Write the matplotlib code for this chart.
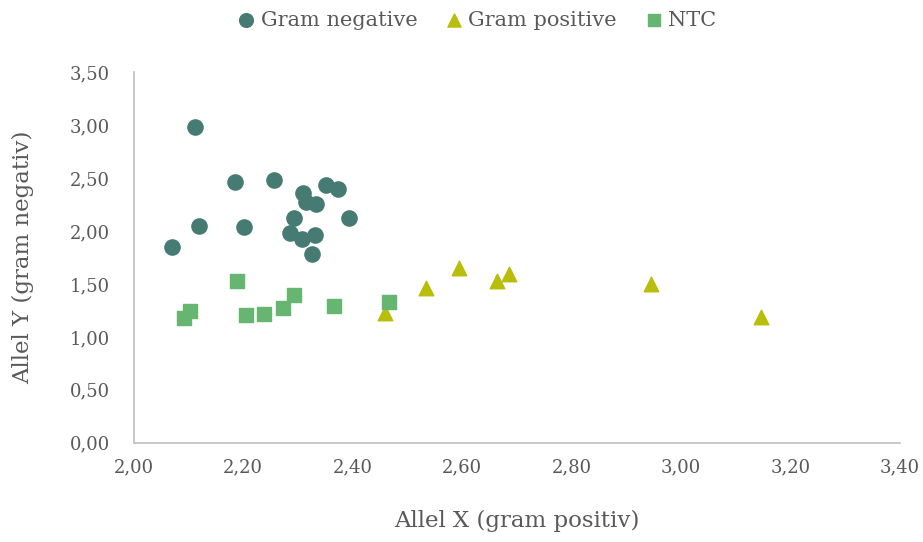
import matplotlib
matplotlib.use('Agg')
import matplotlib.pyplot as plt
from matplotlib.ticker import FuncFormatter

# Data
neg_x = [2.069, 2.112, 2.119, 2.185, 2.201, 2.256, 2.285, 2.292, 2.307,
         2.309, 2.314, 2.325, 2.333, 2.331, 2.351, 2.373, 2.393]
neg_y = [1.85, 2.98, 2.05, 2.46, 2.04, 2.48, 1.98, 2.12, 1.92,
         2.36, 2.27, 1.78, 2.25, 1.96, 2.43, 2.40, 2.12]

pos_x = [2.459, 2.534, 2.594, 2.664, 2.686, 2.945, 3.146]
pos_y = [1.23, 1.46, 1.65, 1.53, 1.59, 1.50, 1.19]

ntc_x = [2.188, 2.102, 2.091, 2.205, 2.238, 2.272, 2.293, 2.366, 2.466]
ntc_y = [1.53, 1.24, 1.18, 1.21, 1.22, 1.27, 1.40, 1.29, 1.33]

plt.rcParams['font.family'] = ['DejaVu Serif']
text_color = '#595959'

fig = plt.figure(figsize=(9.23, 5.42), dpi=100)
ax = fig.add_axes([0.145, 0.183, 0.83, 0.684])

ax.scatter(neg_x, neg_y, marker='o', s=120, color='#467B73', label='Gram negative', zorder=3)
ax.scatter(pos_x, pos_y, marker='^', s=110, color='#B8BE0A', label='Gram positive', zorder=3)
ax.scatter(ntc_x, ntc_y, marker='s', s=105, color='#66B672', label='NTC', zorder=3)

ax.set_xlim(2.0, 3.4)
ax.set_ylim(0, 3.5)
ax.set_xticks([2.0 + 0.2 * i for i in range(8)])
ax.set_yticks([0.5 * i for i in range(8)])
fmt = FuncFormatter(lambda v, p: f'{v:.2f}'.replace('.', ','))
ax.xaxis.set_major_formatter(fmt)
ax.yaxis.set_major_formatter(fmt)

for side in ['top', 'right']:
    ax.spines[side].set_visible(False)
for side in ['left', 'bottom']:
    ax.spines[side].set_color('#BFBFBF')
    ax.spines[side].set_linewidth(1.2)

ax.tick_params(length=0, labelsize=13, colors=text_color)
ax.tick_params(axis='x', pad=11)
ax.tick_params(axis='y', pad=17)

ax.set_xlabel('Allel X (gram positiv)', fontsize=16.5, color=text_color, labelpad=24)
ax.set_ylabel('Allel Y (gram negativ)', fontsize=16.5, color=text_color, labelpad=26)

leg = fig.legend(loc='upper center', bbox_to_anchor=(0.51, 1.015), ncol=3, frameon=False,
                 fontsize=15, handletextpad=-0.3, columnspacing=0.75, markerscale=0.9)
for t in leg.get_texts():
    t.set_color(text_color)

plt.savefig('out.png', dpi=100)
